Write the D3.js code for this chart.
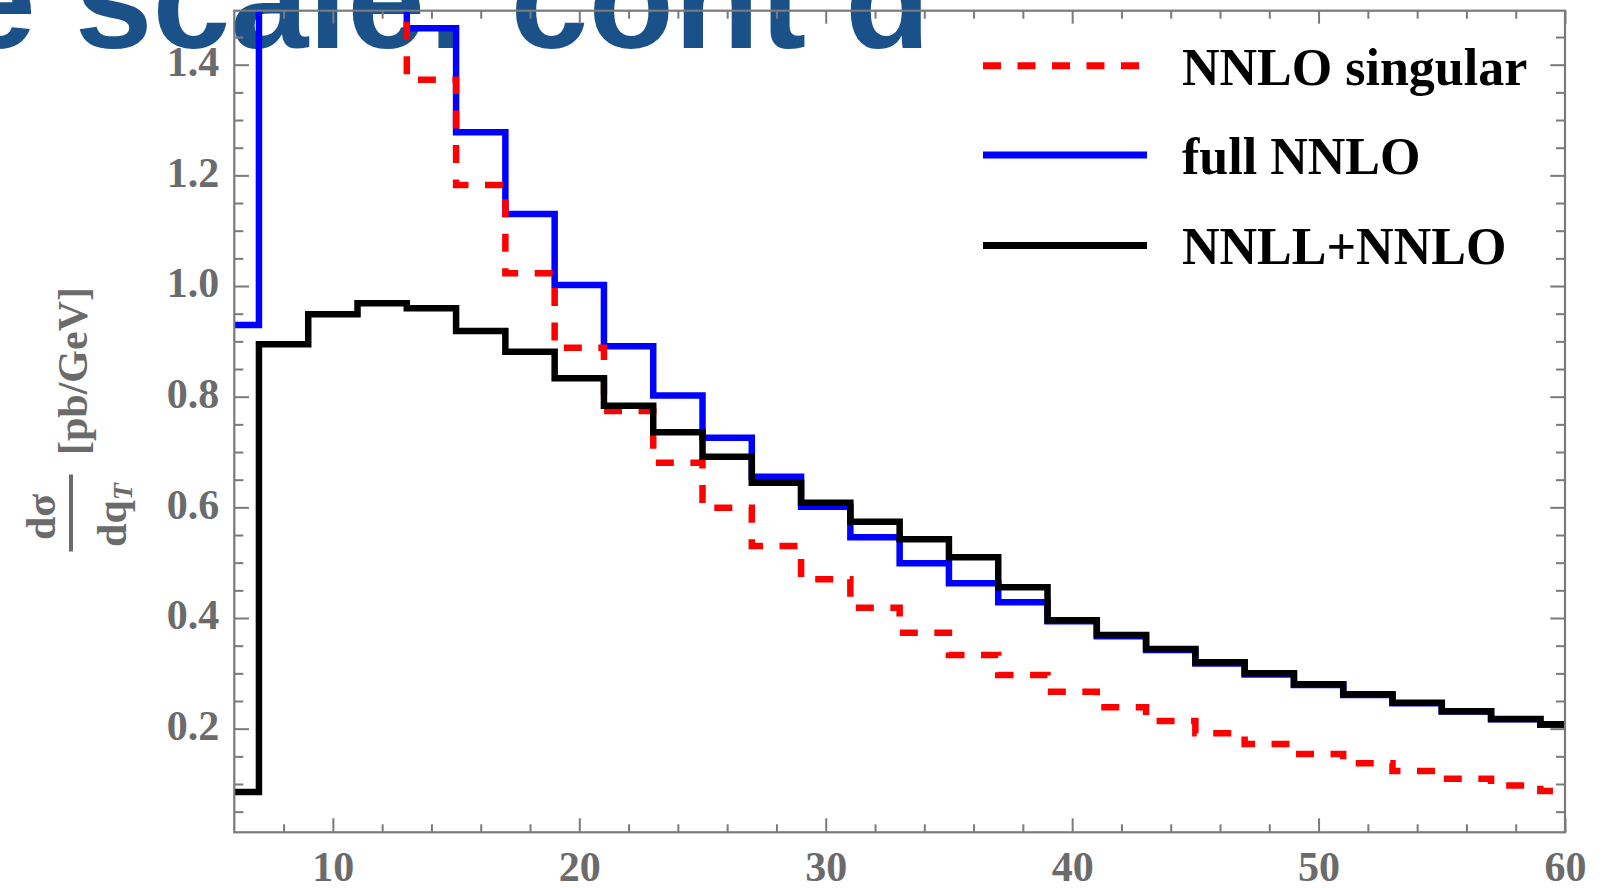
<!DOCTYPE html>
<html><head><meta charset="utf-8">
<script src="https://cdn.jsdelivr.net/npm/d3@7"></script>
<style>
html,body{margin:0;padding:0;background:#fff;overflow:hidden;}
svg{display:block;}
</style></head><body>
<svg id="chart" width="1610" height="888"></svg>
<script>
// ---------- data ----------
const qtCenters = [6,8,10,12,14,16,18,20,22,24,26,28,30,32,34,36,38,40,42,44,46,48,50,52,54,56,58,60];
const nnloSingular = [2.6,2.1,1.8,1.58,1.373,1.1825,1.0229,0.8885,0.7741,0.6807,0.5993,0.5301,0.4699,0.4186,0.3734,0.3331,0.297,0.2668,0.2386,0.2139,0.1916,0.1723,0.1542,0.1374,0.1234,0.1095,0.0975,0.0872];
const fullNNLO     = [0.9295,1.9,1.72,1.56,1.4657,1.2778,1.1301,1.0018,0.891,0.802,0.7258,0.6553,0.601,0.5458,0.4988,0.4627,0.4283,0.394,0.367,0.342,0.318,0.298,0.279,0.261,0.246,0.231,0.217,0.207];
const nnllNNLO     = [0.0855,0.8946,0.9488,0.9687,0.9597,0.9187,0.8813,0.8332,0.7835,0.7358,0.6915,0.6445,0.6084,0.574,0.5422,0.5097,0.4554,0.3958,0.3694,0.3441,0.320,0.300,0.2801,0.262,0.2469,0.2313,0.2174,0.2078];
const binWidth = 2;
const seriesNames = ["NNLO singular","full NNLO","NNLL+NNLO"];
const xTicks = [10,20,30,40,50,60];
const xTickLabels = ["10","20","30","40","50","60"];
const xMinorTicks = [8,12,14,16,18,22,24,26,28,32,34,36,38,42,44,46,48,52,54,56,58];
const yTicks = [0.2,0.4,0.6,0.8,1.0,1.2,1.4];
const yTickLabels = ["0.2","0.4","0.6","0.8","1.0","1.2","1.4"];
const yMinorTicks = [0.05,0.1,0.15,0.25,0.3,0.35,0.45,0.5,0.55,0.65,0.7,0.75,0.85,0.9,0.95,1.05,1.1,1.15,1.25,1.3,1.35,1.45];
const titleText = "e scale: cont\u2019d";
const xDomain = [6,60];
const yDomain = [0.0127,1.4976];

// ---------- layout ----------
const svg = d3.select("#chart");
const L = 234.3, R = 1565, T = 10.7, B = 832.3;
const x = d3.scaleLinear().domain(xDomain).range([L,R]);
const y = d3.scaleLinear().domain(yDomain).range([B,T]);
const gray = "#7a7a7a", labelGray = "#6b6b6b";
const serif = "'Liberation Serif','Times New Roman',Times,serif";

// slide title behind the plot
svg.append("text").attr("x",-42).attr("y",48)
  .attr("font-family","'Liberation Sans',Arial,sans-serif").attr("font-weight","bold")
  .attr("font-size",140).attr("fill","#1a5188").text(titleText);

// clip
svg.append("defs").append("clipPath").attr("id","plotclip")
  .append("rect").attr("x",L).attr("y",T).attr("width",R-L).attr("height",B-T);

function stepPoints(vals){
  const pts = qtCenters.map((c,i)=>[Math.max(c-binWidth/2,xDomain[0]), vals[i]]);
  pts.push([xDomain[1], vals[vals.length-1]]);
  return pts;
}
const line = d3.line().x(d=>x(d[0])).y(d=>y(d[1])).curve(d3.curveStepAfter);

const series = [
  {name:seriesNames[1], vals:fullNNLO, color:"#0000ff", dash:null},
  {name:seriesNames[0], vals:nnloSingular, color:"#ff0000", dash:"18,16.5"},
  {name:seriesNames[2], vals:nnllNNLO, color:"#000000", dash:null}
];
const plot = svg.append("g").attr("clip-path","url(#plotclip)");
plot.selectAll("path.s").data(series).join("path").attr("class","s")
  .attr("d",d=>line(stepPoints(d.vals)))
  .attr("fill","none").attr("stroke",d=>d.color).attr("stroke-width",6.5)
  .attr("stroke-dasharray",d=>d.dash).attr("stroke-linejoin","miter").attr("stroke-linecap","butt");

// frame
svg.append("rect").attr("x",L).attr("y",T).attr("width",R-L).attr("height",B-T)
  .attr("fill","none").attr("stroke",gray).attr("stroke-width",2.2);

function styleAxis(g){
  g.select(".domain").remove();
  g.selectAll(".tick line").attr("stroke",gray).attr("stroke-width",2);
}
// bottom
svg.append("g").attr("transform",`translate(0,${B})`)
  .call(d3.axisBottom(x).tickValues(xTicks).tickSizeInner(-14).tickSizeOuter(0).tickPadding(18.6)
        .tickFormat((d,i)=>xTickLabels[i]))
  .call(styleAxis)
  .call(g=>g.selectAll("text").attr("font-family",serif).attr("font-weight","bold")
        .attr("font-size",42).attr("fill",labelGray));
svg.append("g").attr("transform",`translate(0,${B})`)
  .call(d3.axisBottom(x).tickValues(xMinorTicks).tickSizeInner(-8).tickSizeOuter(0).tickFormat(""))
  .call(styleAxis);
// top
svg.append("g").attr("transform",`translate(0,${T})`)
  .call(d3.axisTop(x).tickValues(xTicks).tickSizeInner(-13).tickSizeOuter(0).tickFormat(""))
  .call(styleAxis);
svg.append("g").attr("transform",`translate(0,${T})`)
  .call(d3.axisTop(x).tickValues(xMinorTicks).tickSizeInner(-8).tickSizeOuter(0).tickFormat(""))
  .call(styleAxis);
// left
svg.append("g").attr("transform",`translate(${L},0)`)
  .call(d3.axisLeft(y).tickValues(yTicks).tickSizeInner(-14.7).tickSizeOuter(0).tickPadding(15)
        .tickFormat((d,i)=>yTickLabels[i]))
  .call(styleAxis)
  .call(g=>g.selectAll("text").attr("font-family",serif).attr("font-weight","bold")
        .attr("font-size",42).attr("fill",labelGray).attr("dy","0.26em"));
svg.append("g").attr("transform",`translate(${L},0)`)
  .call(d3.axisLeft(y).tickValues(yMinorTicks).tickSizeInner(-9).tickSizeOuter(0).tickFormat(""))
  .call(styleAxis);
// right
svg.append("g").attr("transform",`translate(${R},0)`)
  .call(d3.axisRight(y).tickValues(yTicks).tickSizeInner(-14.7).tickSizeOuter(0).tickFormat(""))
  .call(styleAxis);
svg.append("g").attr("transform",`translate(${R},0)`)
  .call(d3.axisRight(y).tickValues(yMinorTicks).tickSizeInner(-9).tickSizeOuter(0).tickFormat(""))
  .call(styleAxis);

// y axis label: d sigma / d q_T [pb/GeV]
const yl = svg.append("g").attr("transform","translate(71,513) rotate(-90)")
  .attr("font-family",serif).attr("font-weight","bold").attr("font-size",42).attr("fill",labelGray);
yl.append("line").attr("x1",-38.5).attr("x2",38.5).attr("y1",0).attr("y2",0)
  .attr("stroke",labelGray).attr("stroke-width",4);
yl.append("text").attr("x",-4).attr("y",-16).attr("text-anchor","middle")
  .text("d\u03C3");
const den = yl.append("text").attr("x",-2).attr("y",55).attr("text-anchor","middle");
den.append("tspan").text("dq");
den.append("tspan").attr("font-style","italic").attr("font-size",28).attr("dy",6).text("T");
yl.append("text").attr("x",58).attr("y",16).text("[pb/GeV]");

// legend
const legendItems = [
  {name:seriesNames[0], color:"#ff0000", dash:"18,16.5", ly:65.7},
  {name:seriesNames[1], color:"#0000ff", dash:null, ly:155},
  {name:seriesNames[2], color:"#000000", dash:null, ly:245.4}
];
const lg = svg.append("g");
const li = lg.selectAll("g").data(legendItems).join("g").attr("transform",d=>`translate(0,${d.ly})`);
li.append("line").attr("x1",983).attr("x2",1147).attr("y1",0).attr("y2",0)
  .attr("stroke",d=>d.color).attr("stroke-width",7).attr("stroke-dasharray",d=>d.dash);
li.append("text").attr("x",1182).attr("y",19).attr("font-family",serif).attr("font-weight","bold")
  .attr("font-size",52).attr("fill","#000").text(d=>d.name);
</script>
</body></html>
